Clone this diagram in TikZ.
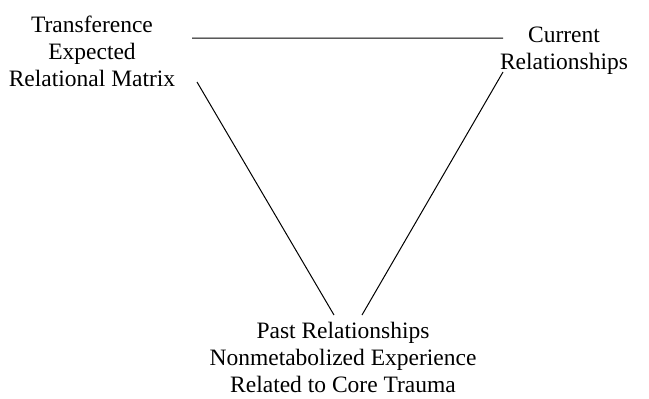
\documentclass[tikz,border=0pt]{standalone}
\usepackage{fontspec}
\setmainfont{Liberation Serif}
\usetikzlibrary{positioning}

\begin{document}
\begin{tikzpicture}[x=1pt, y=-1pt,
      lbl/.style={align=center, inner sep=0pt, font=\fontsize{23.5}{27}\selectfont}]
      \useasboundingbox (0, 0) rectangle (649, 399);
      \node (trans) [lbl, anchor=north] at (92, 16) {Transference\\Expected\\Relational Matrix};
      \node (curr)  [lbl, anchor=north] at (564, 27) {Current\\Relationships};
      \node (past)  [lbl, anchor=north] at (343, 322) {Past Relationships\\Nonmetabolized Experience\\Related to Core Trauma};
      \coordinate (tl) at (192, 38);
      \coordinate (tr) at (503, 38);
      \coordinate (ml) at (197, 82);
      \coordinate (mr) at (503, 72);
      \coordinate (bl) at (334, 315);
      \coordinate (br) at (362, 315);
      \draw[line width=1pt] (tl) -- (tr)
            (ml) -- (bl)
            (mr) -- (br);
\end{tikzpicture}
\end{document}
